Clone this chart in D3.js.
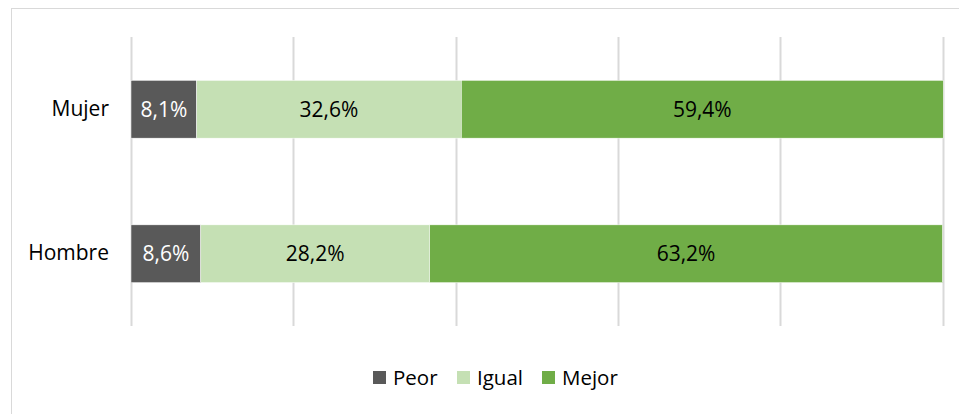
<!DOCTYPE html>
<html><head><meta charset="utf-8">
<script src="https://cdn.jsdelivr.net/npm/d3@7/dist/d3.min.js"></script>
<style>body{margin:0;background:#fff}svg{display:block}text{font-family:"Open Sans",sans-serif}</style>
</head><body><svg id="c" width="959" height="414"></svg>
<script>
const categories = ["Mujer", "Hombre"];
const series = ["Peor", "Igual", "Mejor"];
const peor = [8.1, 8.6];
const igual = [32.6, 28.2];
const mejor = [59.4, 63.2];
const xTicks = [0, 20, 40, 60, 80, 100];
const colors = ["#595959", "#C5E0B4", "#70AD47"];
const labelColors = ["#ffffff", "#000000", "#000000"];

(function(){
const svg = d3.select("#c");
svg.append("rect").attr("x",11.5).attr("y",8.5).attr("width",1000).attr("height",1000)
  .attr("fill","none").attr("stroke","#d9d9d9").attr("stroke-width",1);

const pL = 131, pR = 942.5, pT = 37, pB = 326;
const x = d3.scaleLinear().domain([0,100]).range([pL,pR]);
const y = d3.scaleBand().domain(categories).range([pT,pB]).paddingInner(0.6).paddingOuter(0.3);

svg.append("g").selectAll("line").data(xTicks).join("line")
  .attr("x1",d=>Math.round(x(d))+0.5).attr("x2",d=>Math.round(x(d))+0.5)
  .attr("y1",pT).attr("y2",pB).attr("stroke","#d9d9d9").attr("stroke-width",2);

const stackData = categories.map((c,i)=>({cat:c, Peor:peor[i], Igual:igual[i], Mejor:mejor[i]}));
const stacked = d3.stack().keys(series)(stackData);

stacked.forEach((layer,j)=>{
  const g = svg.append("g");
  g.selectAll("rect").data(layer).join("rect")
    .attr("x",d=>x(d[0])).attr("width",d=>x(d[1])-x(d[0]))
    .attr("y",d=>y(d.data.cat)).attr("height",y.bandwidth())
    .attr("fill",colors[j]).attr("stroke","#ffffff").attr("stroke-width",0.5);
  g.selectAll("text").data(layer).join("text")
    .attr("x",d=>(x(d[0])+x(d[1]))/2).attr("y",d=>y(d.data.cat)+y.bandwidth()/2)
    .attr("dy","0.35em").attr("text-anchor","middle").attr("font-size",21)
    .attr("fill",labelColors[j])
    .text(d=>(d[1]-d[0]).toFixed(1).replace(".",",")+"%");
});

const yAxis = svg.append("g").attr("transform",`translate(${pL},0)`)
  .call(d3.axisLeft(y).tickSize(0).tickPadding(22));
yAxis.select(".domain").remove();
yAxis.selectAll("text").attr("font-size",21).attr("fill","#000").style("font-family",'"Open Sans",sans-serif');

const legX = [373, 457, 542];
const leg = svg.append("g");
series.forEach((s,j)=>{
  leg.append("rect").attr("x",legX[j]).attr("y",371).attr("width",13).attr("height",13).attr("fill",colors[j]);
  leg.append("text").attr("x",legX[j]+20).attr("y",377.5).attr("dy","0.35em").attr("font-size",20.5).attr("fill","#000").text(s);
});
})();
</script></body></html>
